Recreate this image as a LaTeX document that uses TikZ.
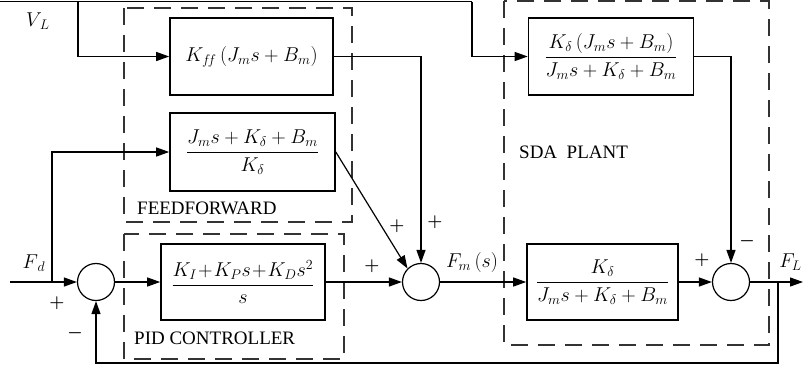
\documentclass[tikz,border=0pt]{standalone}
\usepackage{amsmath}
\usepackage{graphicx}
\usepackage{fontspec}
\newfontfamily\lblfont{Liberation Serif}
\usetikzlibrary{arrows.meta}
\newcommand{\bxs}[1]{\scalebox{1.16}{#1}}
\begin{document}
\begin{tikzpicture}[x=1pt,y=-1pt,
  blk/.style={draw,line width=1.6pt,inner sep=0pt,font=\fontsize{17.28}{20}\selectfont},
  sumj/.style={draw,circle,line width=1.2pt,minimum size=37pt,inner sep=0pt},
  grp/.style={draw=black!80,line width=1.4pt,dash pattern=on 17pt off 10pt},
  sig/.style={line width=1.2pt},
  arr/.style={sig,-{Triangle[length=13pt,width=9pt]}},
  sgn/.style={font=\fontsize{17.28}{18}\selectfont\boldmath},
  lbl/.style={font=\lblfont\fontsize{19}{20}\selectfont,anchor=west,inner sep=0pt},
  mlab/.style={font=\fontsize{17.28}{19}\selectfont,inner sep=0pt}]
\useasboundingbox (0,0) rectangle (803,370);
% group boxes
\draw[grp] (124,8) rectangle (352,222);
\draw[grp] (124,234) rectangle (344,359);
\draw[grp] (504,1) rectangle (769,345);
% blocks
\node[blk,minimum width=163pt,minimum height=77pt] (kff) at (251.5,56.5) {\bxs{$K_{f\!f}\,(J_m s + B_m)$}};
\node[blk,minimum width=165pt,minimum height=78pt] (ff2) at (252.5,152) {\bxs{$\dfrac{J_m s + K_\delta + B_m}{\;K_\delta\;}$}};
\node[blk,minimum width=164pt,minimum height=76pt] (pid) at (243,282) {\bxs{$\dfrac{K_I\!+\!K_P s\!+\!K_D s^2}{s}$}};
\node[blk,minimum width=165pt,minimum height=77pt] (p1) at (611,56.5) {\bxs{$\dfrac{K_\delta\,(J_m s + B_m)}{J_m s + K_\delta + B_m}$}};
\node[blk,minimum width=151pt,minimum height=76pt] (p2) at (602.5,282) {\bxs{$\dfrac{K_\delta}{J_m s + K_\delta + B_m}$}};
% summing junctions
\node[sumj] (s1) at (96,282) {};
\node[sumj] (s2) at (421,282) {};
\node[sumj] (s3) at (731,282) {};
% free ends
\coordinate (vl) at (0,1.5);
\coordinate (vla) at (78,1.5);
\coordinate (vlb) at (472,1.5);
\coordinate (fd) at (10,282);
\coordinate (br1) at (52,282);
\coordinate (br2) at (778,282);
\coordinate (out) at (803,282);
% connectors
\draw[sig] (vl) -- (vlb);
\draw[arr] (vla) |- (kff.west);
\draw[arr] (vlb) |- (p1.west);
\draw[arr] (kff.east) -| (s2.north);
\draw[arr] (ff2.east) -- (s2.north west);
\draw[arr] (fd) -- (s1.west);
\draw[arr] (br1) |- (ff2.west);
\draw[arr] (s1.east) -- (pid.west);
\draw[arr] (pid.east) -- (s2.west);
\draw[arr] (s2.east) -- (p2.west);
\draw[arr] (p2.east) -- (s3.west);
\draw[arr] (p1.east) -| (s3.north);
\draw[arr] (s3.east) -- (out);
\draw[arr] (br2) -- ++(0,81) -| (s1.south);
% labels
\node[mlab] (lvl) at (38,21) {\bxs{$V_{\,L}$}};
\node[mlab] (lfd) at (34,263) {\bxs{$F_{\,d}$}};
\node[mlab] (lfm) at (472,262) {\bxs{$F_m\,(s)$}};
\node[mlab,anchor=east] (lfl) at (802,262) {\bxs{$F_L$}};
\node[sgn] (p_a) at (57,303) {$+$};
\node[sgn] (m_a) at (75,333) {$-$};
\node[sgn] (p_b) at (397,226) {$+$};
\node[sgn] (p_c) at (435,222) {$+$};
\node[sgn] (p_d) at (372,266) {$+$};
\node[sgn] (p_e) at (702,260) {$+$};
\node[sgn] (m_b) at (747,241) {$-$};
\node[lbl] (tff) at (137,208) {FEEDFORWARD};
\node[lbl] (tpid) at (134,338) {PID CONTROLLER};
\node[lbl] (tsda) at (519,152) {SDA\ \ PLANT};
\end{tikzpicture}
\end{document}
